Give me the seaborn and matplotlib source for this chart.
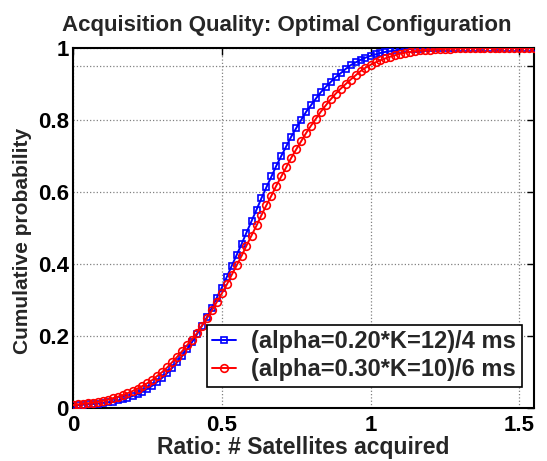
import numpy as np
import pandas as pd
import seaborn as sns
import matplotlib
matplotlib.use("Agg")
import matplotlib.pyplot as plt

# ---- data ----
ratio = [0.0, 0.017, 0.033, 0.05, 0.067, 0.083, 0.1, 0.117, 0.133, 0.15,
         0.167, 0.183, 0.2, 0.217, 0.233, 0.25, 0.267, 0.283, 0.3, 0.317,
         0.333, 0.35, 0.367, 0.383, 0.4, 0.417, 0.433, 0.45, 0.467, 0.483,
         0.5, 0.517, 0.533, 0.55, 0.567, 0.583, 0.6, 0.617, 0.633, 0.65,
         0.667, 0.683, 0.7, 0.717, 0.733, 0.75, 0.767, 0.783, 0.8, 0.817,
         0.833, 0.85, 0.867, 0.883, 0.9, 0.917, 0.933, 0.95, 0.967, 0.983,
         1.0, 1.017, 1.033, 1.05, 1.067, 1.083, 1.1, 1.117, 1.133, 1.15,
         1.167, 1.183, 1.2, 1.217, 1.233, 1.25, 1.267, 1.283, 1.3, 1.317,
         1.333, 1.35, 1.367, 1.383, 1.4, 1.417, 1.433, 1.45, 1.467, 1.483,
         1.5, 1.517, 1.533, 1.55]

cdf_a020_k12 = [0.007, 0.008, 0.009, 0.010, 0.011, 0.012, 0.014, 0.016, 0.018, 0.021,
                0.024, 0.028, 0.033, 0.038, 0.045, 0.053, 0.062, 0.072, 0.084, 0.097,
                0.111, 0.127, 0.144, 0.163, 0.183, 0.205, 0.228, 0.252, 0.279, 0.306,
                0.334, 0.364, 0.394, 0.425, 0.456, 0.487, 0.519, 0.551, 0.582, 0.613,
                0.643, 0.672, 0.700, 0.727, 0.753, 0.777, 0.800, 0.822, 0.841, 0.860,
                0.877, 0.892, 0.906, 0.919, 0.930, 0.942, 0.952, 0.960, 0.967, 0.973,
                0.978, 0.982, 0.986, 0.989, 0.991, 0.993, 0.995, 0.996, 0.997, 0.998,
                0.998, 0.999, 0.999, 1.0, 1.0, 1.0, 1.0, 1.0, 1.0, 1.0,
                1.0, 1.0, 1.0, 1.0, 1.0, 1.0, 1.0, 1.0, 1.0, 1.0,
                1.0, 1.0, 1.0, 1.0]

cdf_a030_k10 = [0.008, 0.010, 0.012, 0.013, 0.015, 0.017, 0.020, 0.023, 0.027, 0.031,
                0.036, 0.041, 0.047, 0.054, 0.061, 0.069, 0.078, 0.089, 0.100, 0.113,
                0.127, 0.142, 0.158, 0.174, 0.190, 0.208, 0.228, 0.249, 0.271, 0.294,
                0.318, 0.343, 0.369, 0.396, 0.423, 0.451, 0.479, 0.507, 0.535, 0.563,
                0.590, 0.617, 0.643, 0.669, 0.694, 0.718, 0.741, 0.763, 0.784, 0.804,
                0.823, 0.841, 0.858, 0.873, 0.887, 0.900, 0.912, 0.924, 0.936, 0.945,
                0.953, 0.960, 0.966, 0.971, 0.976, 0.980, 0.984, 0.987, 0.989, 0.991,
                0.993, 0.994, 0.995, 0.996, 0.997, 0.998, 0.998, 0.999, 0.999, 1.0,
                1.0, 1.0, 1.0, 1.0, 1.0, 1.0, 1.0, 1.0, 1.0, 1.0,
                1.0, 1.0, 1.0, 1.0]

series_labels = ["(alpha=0.20*K=12)/4 ms", "(alpha=0.30*K=10)/6 ms"]
x_ticks = [0, 0.5, 1, 1.5]
x_ticklabels = ["0", "0.5", "1", "1.5"]
y_ticks = [0, 0.2, 0.4, 0.6, 0.8, 0.95, 1.0]
y_ticklabels = ["0", "0.2", "0.4", "0.6", "0.8", "", "1"]

# ---- plotting ----
sns.set_theme(style="white")
plt.rcParams["font.family"] = ["Liberation Sans", "DejaVu Sans"]
plt.rcParams["font.weight"] = "bold"

fig = plt.figure(figsize=(5.47, 4.61), dpi=100)
ax = fig.add_axes([0.1335, 0.115, 0.843, 0.781])

df1 = pd.DataFrame({"x": ratio, "y": cdf_a020_k12})
df2 = pd.DataFrame({"x": ratio, "y": cdf_a030_k10})

sns.lineplot(data=df1, x="x", y="y", ax=ax, color="#0000ff", lw=1.4,
             marker="s", markersize=4.5, markerfacecolor="none",
             markeredgecolor="#0000ff", markeredgewidth=1.2,
             label=series_labels[0], zorder=3)
sns.lineplot(data=df2, x="x", y="y", ax=ax, color="#ff0000", lw=1.4,
             marker="o", markersize=5.5, markerfacecolor="none",
             markeredgecolor="#ff0000", markeredgewidth=1.2,
             label=series_labels[1], zorder=4)

ax.set_xlim(0, 1.55)
ax.set_ylim(0, 1.0)
ax.set_xticks(x_ticks)
ax.set_xticklabels(x_ticklabels)
ax.set_yticks(y_ticks)
ax.set_yticklabels(y_ticklabels)

ax.grid(True, linestyle=":", color="#808080", linewidth=0.9)
ax.tick_params(direction="in", length=5, width=1, top=True, right=True,
               labelsize=16, pad=3, colors="black")
ax.tick_params(axis="x", pad=5)
for lab in ax.get_xticklabels() + ax.get_yticklabels():
    lab.set_fontweight("bold")
for s in ax.spines.values():
    s.set_visible(True)
    s.set_color("black")
    s.set_linewidth(1.5)

ax.set_xlabel("Ratio: # Satellites acquired", fontsize=16.5, fontweight="bold", labelpad=0)
ax.set_ylabel("Cumulative probability", fontsize=15, fontweight="bold")
ax.yaxis.set_label_coords(-0.089, 0.464)
ax.set_title("Acquisition Quality: Optimal Configuration", fontsize=16,
             fontweight="bold", x=0.464, pad=12)

leg = ax.legend(loc="lower right", bbox_to_anchor=(0.974, 0.058),
                prop={"weight": "bold", "size": 17}, frameon=True,
                fancybox=False, edgecolor="black", framealpha=1,
                handlelength=1.0, borderpad=0.25, labelspacing=0.2,
                handletextpad=0.65, borderaxespad=0)
leg.get_frame().set_linewidth(1.2)

fig.savefig("out.png", dpi=100)
